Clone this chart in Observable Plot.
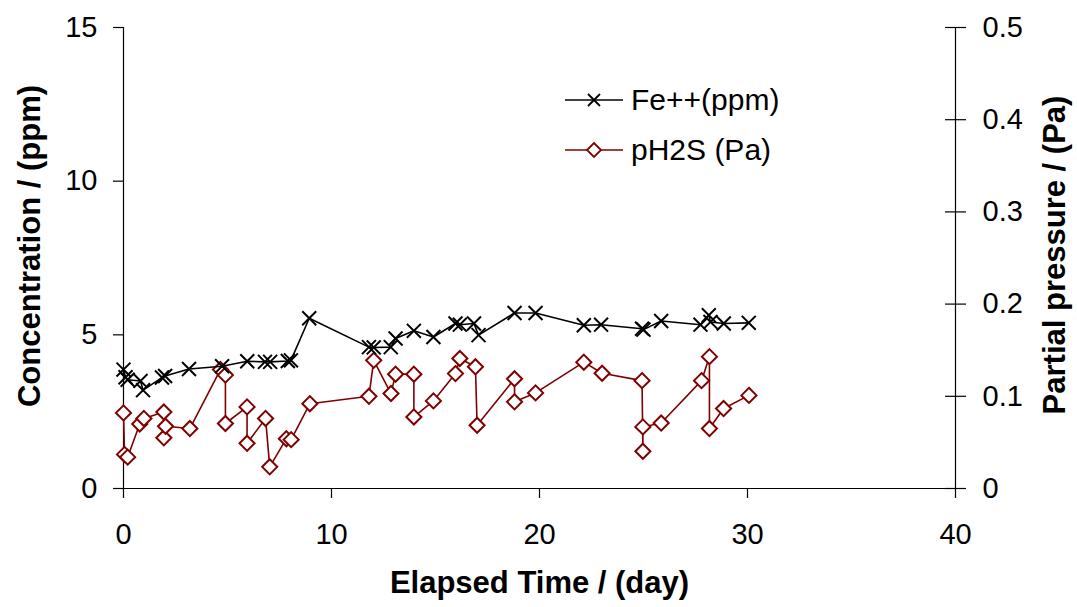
<!DOCTYPE html>
<html>
<head>
<meta charset="utf-8">
<script src="https://cdn.jsdelivr.net/npm/d3@7"></script>
<script src="https://cdn.jsdelivr.net/npm/@observablehq/plot@0.6"></script>
<style>
  html, body { margin: 0; padding: 0; background: #fff; }
  #wrap { position: relative; width: 1077px; height: 607px; font-family: "Liberation Sans", Arial, sans-serif; }
  #legend { position: absolute; left: 563px; top: 75px; }
  #legend div { display: flex; align-items: center; height: 50px; font-size: 30px; color: #000; line-height: 1; }
  #legend svg { margin-right: 6px; }
</style>
</head>
<body>
<div id="wrap"></div>
<script>
// Fe++ concentration (ppm), left axis
const feDay = [0, 0.1, 0.2, 0.82, 0.94, 1.85, 2.0, 3.15, 4.74, 5.95, 6.8, 7.05, 7.9, 8.05, 8.93, 11.8, 12.03, 12.85, 13.08, 13.96, 14.9, 15.96, 16.17, 16.85, 17.07, 18.8, 19.81, 22.13, 22.96, 24.93, 25.0, 25.85, 27.74, 28.14, 28.22, 28.86, 30.06];
const feConc = [3.87, 3.62, 3.54, 3.5, 3.2, 3.61, 3.66, 3.89, 3.98, 4.14, 4.12, 4.12, 4.15, 4.17, 5.54, 4.6, 4.59, 4.6, 4.88, 5.13, 4.93, 5.37, 5.33, 5.37, 4.99, 5.71, 5.71, 5.31, 5.33, 5.2, 5.17, 5.45, 5.33, 5.64, 5.42, 5.37, 5.39];

// pH2S partial pressure (Pa), right axis
const pDay = [0, 0.05, 0.2, 0.78, 0.98, 1.94, 1.94, 2.02, 3.19, 4.66, 4.9, 4.9, 5.94, 5.94, 6.83, 7.03, 7.83, 8.06, 8.96, 11.8, 12.03, 12.86, 13.08, 13.96, 13.96, 14.9, 15.96, 16.17, 16.92, 17.0, 18.8, 18.8, 19.81, 22.13, 23.01, 24.93, 24.97, 24.97, 25.85, 27.79, 28.17, 28.17, 28.85, 30.07];
const pH2S = [0.082, 0.037, 0.034, 0.070, 0.076, 0.083, 0.055, 0.0675, 0.065, 0.129, 0.123, 0.0705, 0.0885, 0.049, 0.076, 0.0235, 0.054, 0.053, 0.092, 0.100, 0.139, 0.103, 0.124, 0.124, 0.0776, 0.095, 0.1246, 0.141, 0.132, 0.0686, 0.119, 0.094, 0.1037, 0.137, 0.125, 0.117, 0.0404, 0.0668, 0.071, 0.117, 0.143, 0.065, 0.0867, 0.101];

const xTicks = [0, 10, 20, 30, 40];
const yTicks = [0, 5, 10, 15];
const rightTicks = [0, 0.1, 0.2, 0.3, 0.4, 0.5];
const seriesNames = ["Fe++(ppm)", "pH2S (Pa)"];
const titles = { x: "Elapsed Time / (day)", y: "Concentration / (ppm)", y2: "Partial pressure / (Pa)" };

const yMax = 15, y2Max = 0.5, xMax = 40;
const k = yMax / y2Max; // right-axis to left-axis conversion

const fe = feDay.map((d, i) => ({day: d, v: feConc[i]}));
const ph = pDay.map((d, i) => ({day: d, v: pH2S[i] * k}));

const red = "#800000";
const font = "Liberation Sans, Arial, sans-serif";

const chart = Plot.plot({
  width: 1077,
  height: 607,
  marginLeft: 123,
  marginRight: 122,
  marginTop: 27,
  marginBottom: 119,
  style: { fontFamily: font, background: "#fff", color: "#000" },
  x: { domain: [0, xMax] },
  y: { domain: [0, yMax] },
  marks: [
    Plot.axisX(xTicks, { tickSize: 10, tickPadding: 25, fontSize: 29, label: null, strokeWidth: 1.2, stroke: "#000" }),
    Plot.axisY(yTicks, { tickSize: 10, tickPadding: 16, fontSize: 29, label: null, strokeWidth: 1.2 }),
    Plot.axisY(rightTicks.map(t => t * k), { anchor: "right", tickSize: 10, tickPadding: 17, fontSize: 29, label: null, strokeWidth: 1.2,
      tickFormat: d => String(+(d / k).toFixed(1)) }),
    // inner half of the crossing right-axis ticks
    Plot.ruleY(rightTicks.map(t => t * k), { x1: () => xMax, x2: () => xMax, insetLeft: -10, stroke: "#000", strokeWidth: 1.2 }),
    Plot.ruleX([0, xMax], { y1: 0, y2: yMax, stroke: "#000", strokeWidth: 1.2 }),
    Plot.ruleY([0], { x1: 0, x2: xMax, stroke: "#000", strokeWidth: 1.2 }),
    Plot.line(ph, { x: "day", y: "v", stroke: red, strokeWidth: 1.6 }),
    Plot.dot(ph, { x: "day", y: "v", symbol: "diamond2", r: 6.8, stroke: red, fill: "#fff", strokeWidth: 2 }),
    Plot.line(fe, { x: "day", y: "v", stroke: "#000", strokeWidth: 1.6 }),
    Plot.dot(fe, { x: "day", y: "v", symbol: "times", r: 6.4, stroke: "#000", strokeWidth: 2 }),
    Plot.text([titles.x], { frameAnchor: "bottom", dy: 104, fontSize: 31, fontWeight: "bold", fill: "#000" }),
    Plot.text([titles.y], { frameAnchor: "left", dx: -93, dy: -12, rotate: -90, textAnchor: "middle", fontSize: 31, fontWeight: "bold", fill: "#000" }),
    Plot.text([titles.y2], { frameAnchor: "right", dx: 100, dy: -3, rotate: -90, textAnchor: "middle", fontSize: 31, fontWeight: "bold", fill: "#000" })
  ]
});

const wrap = document.getElementById("wrap");
wrap.appendChild(chart);

// Legend
const legend = document.createElement("div");
legend.id = "legend";
const sym = [
  `<svg width="62" height="20"><line x1="2" y1="10" x2="60" y2="10" stroke="#000" stroke-width="1.6"/><path d="M25,4L37,16M25,16L37,4" stroke="#000" stroke-width="1.8"/></svg>`,
  `<svg width="62" height="20"><line x1="2" y1="10" x2="60" y2="10" stroke="${red}" stroke-width="1.6"/><path d="M31,3L38,10L31,17L24,10Z" fill="#fff" stroke="${red}" stroke-width="1.8"/></svg>`
];
seriesNames.forEach((n, i) => {
  const row = document.createElement("div");
  row.innerHTML = sym[i] + `<span>${n}</span>`;
  legend.appendChild(row);
});
wrap.appendChild(legend);
</script>
</body>
</html>
